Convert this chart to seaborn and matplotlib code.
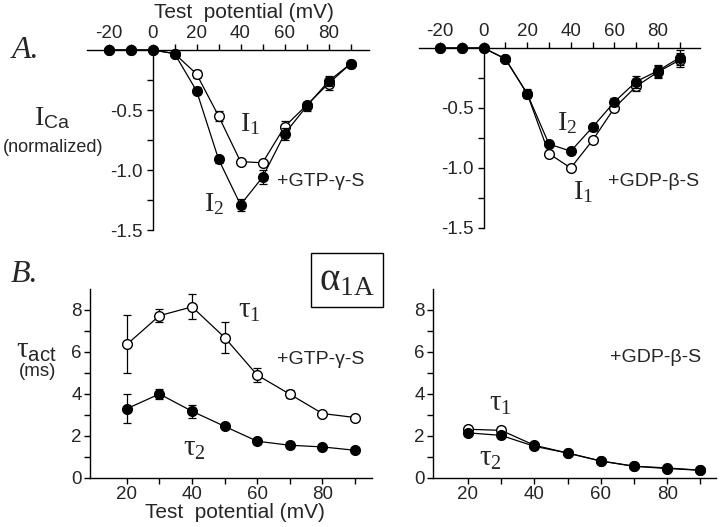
import numpy as np
import pandas as pd
import matplotlib
matplotlib.use("Agg")
import matplotlib.pyplot as plt
import seaborn as sns

sns.set_theme(style="white")
plt.rcParams['font.family'] = ['Liberation Sans', 'DejaVu Sans']
plt.rcParams['mathtext.fontset'] = 'custom'
plt.rcParams['mathtext.rm'] = 'Liberation Serif'
plt.rcParams['mathtext.sf'] = 'Liberation Sans'
plt.rcParams['mathtext.it'] = 'Liberation Serif:italic'

# ---------------- data ----------------
v_iv = [-20, -10, 0, 10, 20, 30, 40, 50, 60, 70, 80, 90]
gtp_I1 = [0, 0, 0, -0.03, -0.20, -0.55, -0.93, -0.94, -0.64, -0.46, -0.28, -0.115]
gtp_I1_err = [0, 0, 0, 0.01, 0.03, 0.04, 0.02, 0.02, 0.05, 0.03, 0.05, 0.01]
gtp_I2 = [0, 0, 0, -0.03, -0.34, -0.91, -1.29, -1.06, -0.70, -0.47, -0.26, -0.115]
gtp_I2_err = [0, 0, 0, 0.01, 0.03, 0.03, 0.05, 0.06, 0.05, 0.04, 0.04, 0.01]
gdp_I1 = [0, 0, 0, -0.09, -0.38, -0.88, -1.00, -0.77, -0.50, -0.32, -0.20, -0.10]
gdp_I1_err = [0, 0, 0, 0.02, 0.03, 0.02, 0.01, 0.01, 0.02, 0.04, 0.05, 0.06]
gdp_I2 = [0, 0, 0, -0.09, -0.38, -0.80, -0.86, -0.66, -0.45, -0.28, -0.19, -0.08]
gdp_I2_err = [0, 0, 0, 0.02, 0.04, 0.02, 0.02, 0.03, 0.03, 0.05, 0.05, 0.06]

v_tau = [20, 30, 40, 50, 60, 70, 80, 90]
gtp_tau1 = [6.36, 7.73, 8.15, 6.69, 4.90, 3.99, 3.07, 2.88]
gtp_tau1_err = [1.38, 0.30, 0.60, 0.75, 0.35, 0.20, 0.05, 0.05]
gtp_tau2 = [3.30, 4.00, 3.18, 2.46, 1.75, 1.56, 1.48, 1.32]
gtp_tau2_err = [0.70, 0.25, 0.30, 0.10, 0.12, 0.15, 0.05, 0.05]
gdp_tau1 = [2.32, 2.27, 1.56, 1.19, 0.81, 0.56, 0.48, 0.37]
gdp_tau1_err = [0.15, 0.15, 0.10, 0.10, 0.05, 0.05, 0.05, 0.05]
gdp_tau2 = [2.15, 2.03, 1.51, 1.19, 0.81, 0.56, 0.45, 0.37]
gdp_tau2_err = [0.12, 0.12, 0.10, 0.10, 0.05, 0.05, 0.05, 0.05]

iv_ticks = [-20, 0, 20, 40, 60, 80]
iv_yticks = [-0.5, -1.0, -1.5]
tau_xticks = [20, 40, 60, 80]
tau_yticks = [0, 2, 4, 6, 8]

W, H = 720, 527
fig = plt.figure(figsize=(W / 100, H / 100), dpi=100)


def ax_px(x0, x1, y0, y1):
    return fig.add_axes([x0 / W, 1 - y1 / H, (x1 - x0) / W, (y1 - y0) / H])


MS = 7.0
LW = 0.9
TICK_FS = 13.5


def series(ax, x, y, err, filled):
    df = pd.DataFrame({"x": x, "y": y})
    ax.errorbar(x, y, yerr=err, fmt='none', ecolor='black', elinewidth=LW,
                capsize=3.2, capthick=LW, clip_on=False, zorder=3 if not filled else 5)
    sns.lineplot(data=df, x="x", y="y", ax=ax, color='black', lw=LW,
                 marker='o', markersize=MS,
                 markerfacecolor='black' if filled else 'white',
                 markeredgecolor='black', markeredgewidth=1.0,
                 clip_on=False, zorder=4 if not filled else 6, legend=False)


def style_iv(ax, xlim):
    ax.set_xlim(*xlim)
    ax.set_ylim(-1.5, 0)
    for s in ['right', 'bottom']:
        ax.spines[s].set_visible(False)
    ax.spines['left'].set_position(('data', 0))
    for s in ['top', 'left']:
        ax.spines[s].set_color('black')
        ax.spines[s].set_linewidth(1.0)
    ax.xaxis.tick_top()
    ax.set_xticks(iv_ticks)
    ax.set_xticklabels([str(t) for t in iv_ticks])
    ax.set_xticks([-10, 10, 30, 50, 70, 90], minor=True)
    ax.set_yticks(iv_yticks)
    ax.set_yticklabels([f"{t:.1f}" for t in iv_yticks])
    ax.set_yticks([-0.25, -0.75, -1.25], minor=True)
    ax.tick_params(axis='x', which='both', top=True, bottom=False, direction='out',
                   length=4, width=1.0, color='black', labelsize=TICK_FS, pad=2)
    ax.tick_params(axis='y', which='both', left=True, direction='out', length=4,
                   width=1.0, color='black', labelsize=TICK_FS, pad=3)
    ax.set_xlabel("")
    ax.set_ylabel("")
    ax.patch.set_alpha(0)


def style_tau(ax, xlim):
    ax.set_xlim(*xlim)
    ax.set_ylim(0, 9)
    for s in ['right', 'top']:
        ax.spines[s].set_visible(False)
    for s in ['left', 'bottom']:
        ax.spines[s].set_color('black')
        ax.spines[s].set_linewidth(1.0)
    ax.set_xticks(tau_xticks)
    ax.set_xticks([30, 50, 70, 90], minor=True)
    ax.set_yticks(tau_yticks)
    ax.set_yticks([1, 3, 5, 7], minor=True)
    ax.tick_params(axis='both', which='both', bottom=True, left=True, direction='out',
                   length=4, width=1.0, color='black', labelsize=TICK_FS, pad=2)
    ax.set_xlabel("")
    ax.set_ylabel("")
    ax.patch.set_alpha(0)


# ---------- Panel A left ----------
axA1 = ax_px(87, 369, 50, 230)
series(axA1, v_iv, gtp_I1, gtp_I1_err, False)
series(axA1, v_iv, gtp_I2, gtp_I2_err, True)
style_iv(axA1, (-29.8, 98.4))

# ---------- Panel A right ----------
axA2 = ax_px(419, 700, 48, 228)
series(axA2, v_iv, gdp_I1, gdp_I1_err, False)
series(axA2, v_iv, gdp_I2, gdp_I2_err, True)
style_iv(axA2, (-29.6, 99.3))

# ---------- Panel B left ----------
axB1 = ax_px(90, 372, 289, 478)
series(axB1, v_tau, gtp_tau1, gtp_tau1_err, False)
series(axB1, v_tau, gtp_tau2, gtp_tau2_err, True)
style_tau(axB1, (8.7, 95.2))

# ---------- Panel B right ----------
axB2 = ax_px(433, 716, 289, 478)
series(axB2, v_tau, gdp_tau1, gdp_tau1_err, False)
series(axB2, v_tau, gdp_tau2, gdp_tau2_err, True)
style_tau(axB2, (9.5, 94.7))


def ftext(x, y, s, **kw):
    kw.setdefault('ha', 'center')
    kw.setdefault('va', 'center')
    fig.text(x / W, 1 - y / H, s, **kw)


serif = ['Liberation Serif', 'DejaVu Serif']
ftext(244, 13, "Test  potential (mV)", fontsize=15)
ftext(235, 513, "Test  potential (mV)", fontsize=15)
ftext(26, 50, "A.", fontsize=23, family=serif, style='italic')
ftext(24, 275, "B.", fontsize=23, family=serif, style='italic')
ftext(52, 118, r"$\mathrm{I}_{\mathsf{Ca}}$", fontsize=20)
ftext(53, 147, "(normalized)", fontsize=13)
ftext(36, 350, r"$\mathrm{\tau}_{\mathsf{act}}$", fontsize=21)
ftext(38, 372, "(ms)", fontsize=13.5)

ftext(250, 124, r"$\mathrm{I}_{1}$", fontsize=20)
ftext(214, 204, r"$\mathrm{I}_{2}$", fontsize=20)
ftext(277, 182, "+GTP-γ-S", fontsize=14, ha='left')
ftext(567, 123, r"$\mathrm{I}_{2}$", fontsize=20)
ftext(583, 192, r"$\mathrm{I}_{1}$", fontsize=20)
ftext(608, 182, "+GDP-β-S", fontsize=14, ha='left')

ftext(249, 310, r"$\mathrm{\tau}_{1}$", fontsize=21)
ftext(194, 448, r"$\mathrm{\tau}_{2}$", fontsize=21)
ftext(277, 360, "+GTP-γ-S", fontsize=14, ha='left')
ftext(500, 403, r"$\mathrm{\tau}_{1}$", fontsize=21)
ftext(490, 458, r"$\mathrm{\tau}_{2}$", fontsize=21)
ftext(610, 358, "+GDP-β-S", fontsize=14, ha='left')

ftext(347, 280, r"$\mathrm{\alpha}_{\mathrm{1A}}$", fontsize=28,
      bbox=dict(boxstyle='square,pad=0.22', fc='white', ec='black', lw=1.0))

fig.savefig("out.png", dpi=100)
